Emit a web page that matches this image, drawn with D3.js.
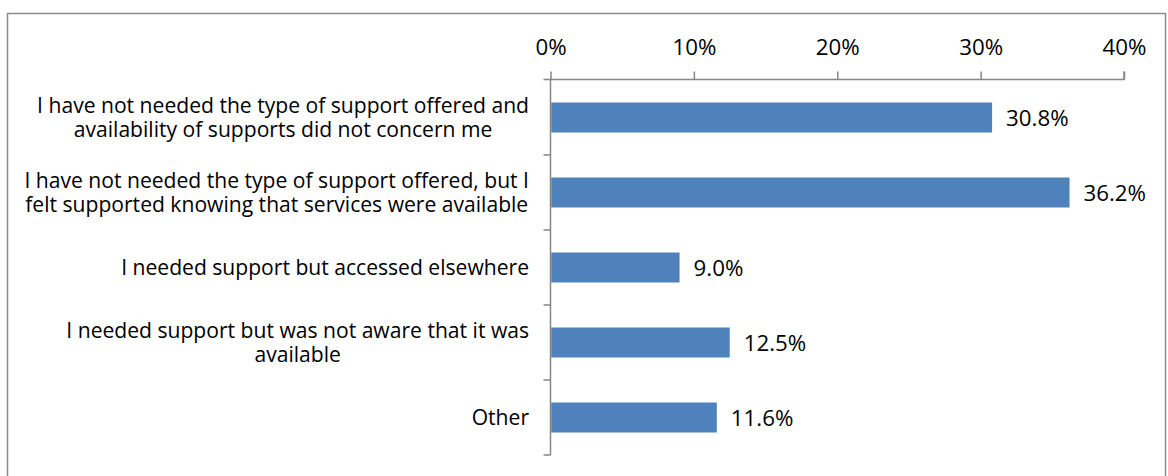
<!DOCTYPE html>
<html>
<head>
<meta charset="utf-8">
<script src="https://cdn.jsdelivr.net/npm/d3@7"></script>
<style>
  html, body { margin: 0; padding: 0; background: #fff; }
  svg { display: block; }
  text { font-family: "Open Sans", Lato, sans-serif; fill: #000; }
</style>
</head>
<body>
<svg id="chart" width="1168" height="476"></svg>
<script>
// Survey responses: why respondents did not use the offered support
const categories = [
  ["I have not needed the type of support offered and", "availability of supports did not concern me"],
  ["I have not needed the type of support offered, but I", "felt supported knowing that services were available"],
  ["I needed support but accessed elsewhere"],
  ["I needed support but was not aware that it was", "available"],
  ["Other"]
];
const values = [30.8, 36.2, 9.0, 12.5, 11.6];
const tickValues = [0, 10, 20, 30, 40];

const svg = d3.select("#chart");
const fontFamily = "'Open Sans', Lato, sans-serif";
const labelSize = 21.1;
const numberSize = 22.3;

// Chart frame
svg.append("rect")
  .attr("x", 7.5).attr("y", 13.5)
  .attr("width", 1158).attr("height", 500)
  .attr("fill", "none").attr("stroke", "#8c8c8c").attr("stroke-width", 1.5);

const plot = { left: 550.5, right: 1124, top: 80, bottom: 455 };

const x = d3.scaleLinear().domain([0, 40]).range([plot.left, plot.right]);
const y = d3.scaleBand()
  .domain(d3.range(categories.length))
  .range([plot.top, plot.bottom])
  .paddingInner(0.6).paddingOuter(0.3);

// Top value axis
const xAxis = d3.axisTop(x)
  .tickValues(tickValues)
  .tickFormat(d => d + "%")
  .tickSizeInner(8).tickSizeOuter(8).tickPadding(17);
const gx = svg.append("g")
  .attr("transform", `translate(0,${plot.top - 0.5})`)
  .call(xAxis);
gx.select(".domain").attr("stroke", "#868686").attr("stroke-width", 1.5)
  .attr("d", `M${plot.left - 7},0H${plot.right}V-8`);
gx.selectAll(".tick line").attr("stroke", "#868686").attr("stroke-width", 1.5);
gx.selectAll(".tick text")
  .style("font-family", fontFamily)
  .attr("font-size", numberSize).attr("fill", "#000");

// Category axis line with boundary ticks pointing left
const boundary = d3.scaleLinear().domain([0, categories.length]).range([plot.top, plot.bottom]);
const gy = svg.append("g");
gy.append("line")
  .attr("x1", plot.left).attr("x2", plot.left)
  .attr("y1", plot.top - 0.5).attr("y2", plot.bottom)
  .attr("stroke", "#868686").attr("stroke-width", 1.5);
gy.selectAll("line.tick")
  .data(d3.range(1, categories.length + 1))
  .join("line")
  .attr("class", "tick")
  .attr("x1", plot.left - 7).attr("x2", plot.left)
  .attr("y1", d => boundary(d)).attr("y2", d => boundary(d))
  .attr("stroke", "#868686").attr("stroke-width", 1.5);

// Bars
svg.append("g").selectAll("rect")
  .data(values)
  .join("rect")
  .attr("x", x(0) + 0.75)
  .attr("y", (d, i) => y(i))
  .attr("width", d => x(d) - x(0) - 0.75)
  .attr("height", y.bandwidth())
  .attr("fill", "#4f81bd");

// Value labels
svg.append("g").selectAll("text")
  .data(values)
  .join("text")
  .attr("x", d => x(d) + 14)
  .attr("y", (d, i) => y(i) + y.bandwidth() / 2 + 3)
  .attr("dominant-baseline", "middle")
  .attr("font-size", numberSize)
  .text(d => d.toFixed(1) + "%");

// Category labels: one text per category, lines as tspans centred
// within a block that is right-aligned to the axis
const labelRight = 529;
const lineH = 24;
const gl = svg.append("g");
categories.forEach((lines, i) => {
  const text = gl.append("text")
    .attr("font-size", labelSize)
    .attr("text-anchor", "middle");
  const spans = lines.map(t => text.append("tspan").text(t));
  const maxW = d3.max(spans, s => s.node().getComputedTextLength());
  const cx = labelRight - maxW / 2;
  const cy = y(i) + y.bandwidth() / 2;
  spans.forEach((s, j) => {
    s.attr("x", cx)
     .attr("y", cy + (j - (lines.length - 1) / 2) * lineH + labelSize * 0.36);
  });
});
</script>
</body>
</html>
